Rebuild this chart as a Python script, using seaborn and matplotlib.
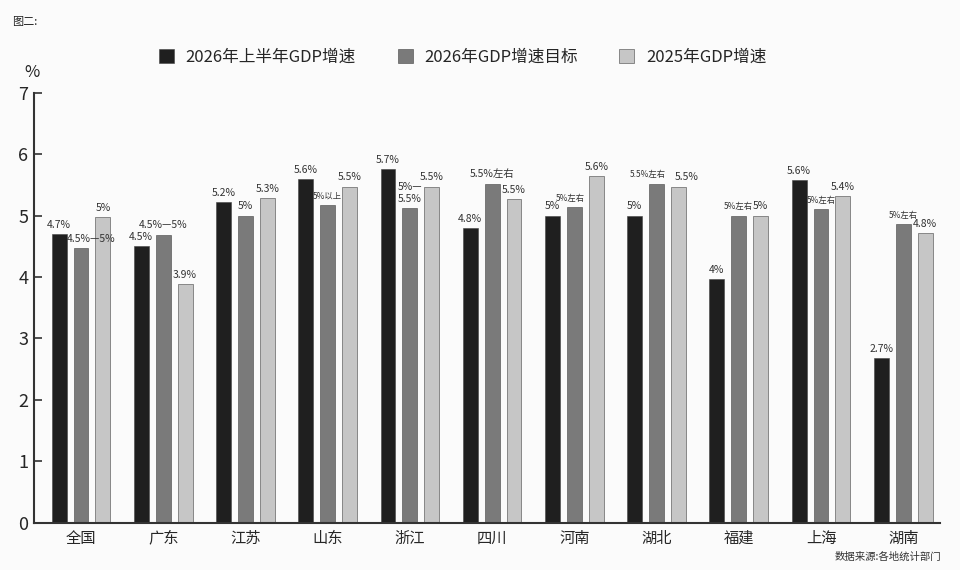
import matplotlib
matplotlib.use("Agg")
import matplotlib.pyplot as plt
import seaborn as sns
import pandas as pd

regions = ["全国", "广东", "江苏", "山东", "浙江", "四川", "河南", "湖北", "福建", "上海", "湖南"]
series_names = ["2026年上半年GDP增速", "2026年GDP增速目标", "2025年GDP增速"]

h1_2026 = [4.7, 4.5, 5.22, 5.59, 5.75, 4.8, 5.0, 5.0, 3.97, 5.58, 2.68]
target_2026 = [4.47, 4.69, 5.0, 5.17, 5.12, 5.52, 5.14, 5.52, 5.0, 5.1, 4.86]
full_2025 = [4.98, 3.89, 5.28, 5.47, 5.47, 5.27, 5.64, 5.47, 5.0, 5.31, 4.72]

labels_h1 = ["4.7%", "4.5%", "5.2%", "5.6%", "5.7%", "4.8%", "5%", "5%", "4%", "5.6%", "2.7%"]
labels_target = ["4.5%—5%", "4.5%—5%", "5%", "5%以上", "5%—\n5.5%", "5.5%左右", "5%左右",
                 "5.5%左右", "5%左右", "5%左右", "5%左右"]
labels_2025 = ["5%", "3.9%", "5.3%", "5.5%", "5.5%", "5.5%", "5.6%", "5.5%", "5%", "5.4%", "4.8%"]

colors = ["#1f1f1f", "#7a7a7a", "#c6c6c6"]

sns.set_theme(style="white")
plt.rcParams['font.family'] = ['Noto Sans CJK SC', 'DejaVu Sans']

rows = []
for s, vals in zip(series_names, [h1_2026, target_2026, full_2025]):
    for r, v in zip(regions, vals):
        rows.append({"region": r, "series": s, "value": v})
df = pd.DataFrame(rows)

fig = plt.figure(figsize=(9.6, 5.7), dpi=100, facecolor="#fbfbfb")
ax = fig.add_axes([0.0354, 0.083, 0.944, 0.7545])
ax.set_facecolor("#fbfbfb")

sns.barplot(data=df, x="region", y="value", hue="series", order=regions,
            hue_order=series_names, palette=colors, width=0.8, gap=0.32,
            edgecolor="#444444", linewidth=0.4, ax=ax)

ax.set_ylim(0, 7)
ax.set_xlim(-0.572, 10.45)
ax.set_yticks(range(0, 8))
ax.set_xlabel("")
ax.set_ylabel("")
ax.tick_params(axis="y", direction="in", length=6, width=1.2, color="#333333",
               labelsize=13, pad=4, left=True)
ax.tick_params(axis="x", length=0, labelsize=11, pad=5)
for lab in ax.get_xticklabels():
    lab.set_fontweight("medium")
for side in ["top", "right"]:
    ax.spines[side].set_visible(False)
for side in ["left", "bottom"]:
    ax.spines[side].set_color("#333333")
    ax.spines[side].set_linewidth(1.5)

small = {"5%以上", "5%左右"}
shifts = {(1, "全国"): 7, (1, "湖北"): -6, (2, "湖北"): 6, (1, "河南"): -3}
all_labels = [labels_h1, labels_target, labels_2025]
for ci, cont in enumerate(ax.containers):
    for bi, bar in enumerate(cont):
        txt = all_labels[ci][bi]
        fs = 7.5
        if ci == 1 and (txt in small or (txt == "5.5%左右" and regions[bi] == "湖北")):
            fs = 6.0
        dx = shifts.get((ci, regions[bi]), 0)
        x = bar.get_x() + bar.get_width() / 2
        y = bar.get_height()
        ax.annotate(txt, (x, y), xytext=(dx, 3), textcoords="offset points",
                    ha="center", va="bottom", fontsize=fs, color="#333333",
                    linespacing=1.3)

handles, labs = ax.get_legend_handles_labels()
ax.get_legend().remove()
fig.legend(handles, labs, loc="center", bbox_to_anchor=(0.482, 0.9), ncol=3,
           frameon=False, fontsize=12, handlelength=0.9, handleheight=0.9,
           handletextpad=0.7, columnspacing=2.5)

fig.text(0.013, 0.962, "图二:", fontsize=8, color="#222222", va="center")
fig.text(0.025, 0.872, "%", fontsize=12, color="#222222", va="center")
fig.text(0.98, 0.023, "数据来源:各地统计部门", fontsize=7.5, color="#333333",
         ha="right", va="center")

fig.savefig("out.png", dpi=100, facecolor=fig.get_facecolor())
